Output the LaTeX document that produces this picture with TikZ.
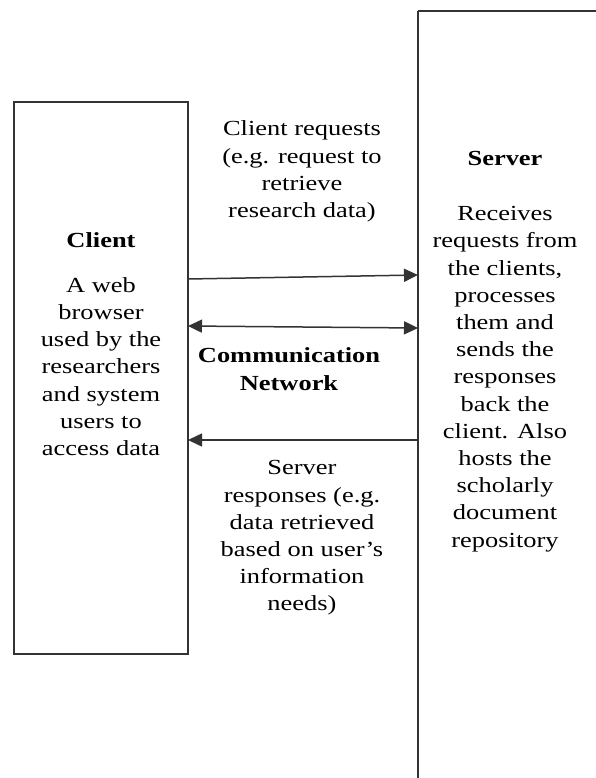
\documentclass[tikz,border=0pt]{standalone}
\usepackage{fontspec}
\setmainfont[FakeStretch=1.23]{Liberation Serif}
\usetikzlibrary{arrows.meta}
\begin{document}
\begin{tikzpicture}[x=1pt,y=-1pt,
  box/.style={draw=black!80,line width=1.6pt},
  txt/.style={align=center,font=\fontsize{21.5}{27.2}\selectfont,inner sep=0pt},
  ttl/.style={align=center,font=\fontsize{21.5}{28}\selectfont\bfseries,inner sep=0pt},
  tip/.style={Triangle[length=14pt,width=13pt]},
  arr/.style={draw=black!80,line width=1.5pt,-{Triangle[length=14pt,width=13pt]}},
  darr/.style={draw=black!80,line width=1.5pt,{Triangle[length=14pt,width=13pt]}-{Triangle[length=14pt,width=13pt]}}]
\useasboundingbox (0,0) rectangle (596,778);
\begin{scope}
\clip (0,0) rectangle (596,778);
\draw[box] (14,102) rectangle (188,654);
\draw[box] (418,11) -- (418,800);
\draw[box] (418,11) -- (610,11);
\end{scope}
\coordinate (c1) at (188,279);
\coordinate (s1) at (418,275);
\coordinate (c2) at (188,326);
\coordinate (s2) at (418,328);
\coordinate (s3) at (418,440);
\coordinate (c3) at (188,440);
\draw[arr] (c1) -- (s1);
\draw[darr] (c2) -- (s2);
\draw[arr] (s3) -- (c3);
\node[ttl] (ct) at (101,240) {Client};
\node[txt] (cb) at (101,366.5) {A web\\browser\\used by the\\researchers\\and system\\users to\\access data};
\node[ttl] (st) at (505,158) {Server};
\node[txt] (sb) at (505,379) {Receives\\requests from\\the clients,\\processes\\them and\\sends the\\responses\\back the\\client. Also\\hosts the\\scholarly\\document\\repository};
\node[txt] (rq) at (302,171.5) {Client requests\\(e.g. request to\\retrieve\\research data)};
\node[ttl] (cn) at (289,369) {Communication\\Network};
\node[txt] (rs) at (302,538) {Server\\responses (e.g.\\data retrieved\\based on user's\\information\\needs)};
\end{tikzpicture}
\end{document}
